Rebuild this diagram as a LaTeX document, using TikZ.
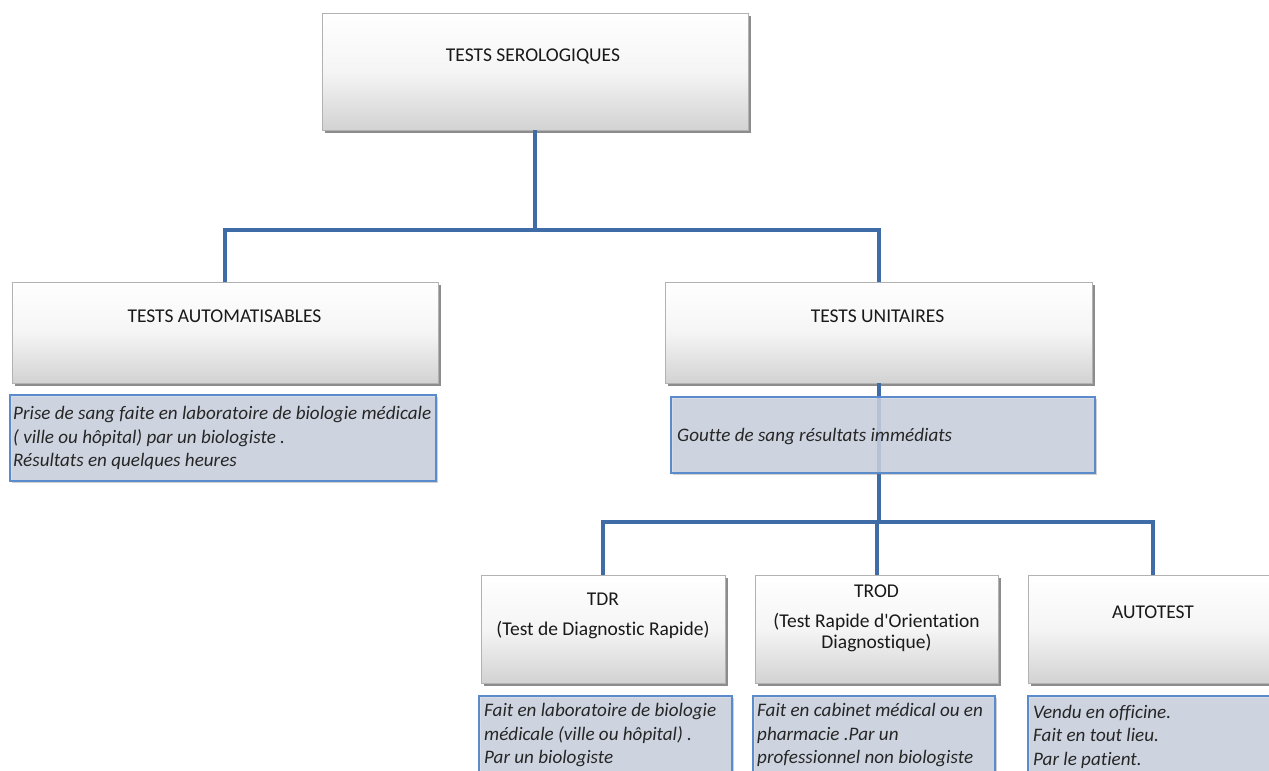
\documentclass[tikz,border=0pt]{standalone}
\usepackage{fontspec}
\setmainfont{Carlito}[Ligatures={NoCommon}]
\usetikzlibrary{shadows}
\definecolor{conncol}{HTML}{3F6CA6}
\definecolor{bfill}{HTML}{CDD5E3}
\definecolor{bdraw}{HTML}{5B8BCB}
\tikzset{
 graybox/.style={rectangle, draw=gray!60, line width=0.9pt, top color=white, bottom color=gray!35, middle color=gray!8,
   drop shadow={shadow xshift=2.5pt, shadow yshift=-3pt, opacity=0.6, fill=black!75}, inner sep=0pt},
 bluebox/.style={rectangle, draw=bdraw, line width=1.3pt, fill=bfill, fill opacity=0.82,
   drop shadow={shadow xshift=1.5pt, shadow yshift=-2pt, opacity=0.3, fill=black!60}, inner sep=0pt},
 connector/.style={draw=conncol, line width=4pt},
 lbl/.style={font=\fontsize{19.5}{23.5}\selectfont, text=black!90, align=center, inner sep=0pt, anchor=base},
 desc/.style={font=\fontsize{19.1}{23.5}\selectfont\itshape, text=black!85, align=left, inner sep=0pt, anchor=base west}
}
\begin{document}
\begin{tikzpicture}[x=1pt,y=-1pt]
\useasboundingbox (0,0) rectangle (1269,771);
\clip (0,0) rectangle (1269,771);
% junctions
\coordinate (j1) at (535,230);
\coordinate (j2) at (878.5,522);
% boxes
\node[graybox, minimum width=426pt, minimum height=117pt] (top) at (535,71.5) {};
\node[graybox, minimum width=426pt, minimum height=101pt] (auto) at (225,332.5) {};
\node[graybox, minimum width=427pt, minimum height=101pt] (unit) at (878.5,332.5) {};
\node[graybox, minimum width=244pt, minimum height=108pt] (tdr) at (603,629) {};
\node[graybox, minimum width=243pt, minimum height=108pt] (trod) at (876.5,629) {};
\node[graybox, minimum width=250pt, minimum height=108pt] (autot) at (1153,629) {};
% connectors
\draw[connector] (top.south) -- (j1);
\draw[connector] (auto.north) |- (j1) -| (unit.north);
\draw[connector] (unit.south) -- (j2);
\draw[connector] (tdr.north) |- (j2) -| (autot.north);
\draw[connector] (trod.north) -- (trod.north |- j2);
% description boxes
\node[bluebox, minimum width=426pt, minimum height=86pt] (autod) at (223,438) {};
\node[bluebox, minimum width=424pt, minimum height=76pt] (unitd) at (883,435) {};
\node[bluebox, minimum width=253pt, minimum height=84pt] (tdrd) at (605.5,738) {};
\node[bluebox, minimum width=242pt, minimum height=84pt] (trodd) at (874,738) {};
\node[bluebox, minimum width=250pt, minimum height=84pt] (autotd) at (1153,738) {};
% titles
\node[lbl] (ttop) at (533,61) {TESTS SEROLOGIQUES};
\node[lbl] (tauto) at (224.5,322) {TESTS AUTOMATISABLES};
\node[lbl] (tunit) at (877.5,322) {TESTS UNITAIRES};
\node[lbl] (ttdr) at (603,605) {TDR};
\node[lbl] (ttdr2) at (603,635) {(Test de Diagnostic Rapide)};
\node[lbl] (ttrod) at (876.5,597) {TROD};
\node[lbl] (ttrod2) at (876.5,627) {(Test Rapide d\textquotesingle Orientation};
\node[lbl] (ttrod3) at (876.5,648.5) {Diagnostique)};
\node[lbl] (tautot) at (1153,618) {AUTOTEST};
% descriptions (anchor = baseline of last line)
\node[desc] (dauto) at (13,466.5) {Prise de sang faite en laboratoire de biologie médicale\\( ville ou hôpital) par un biologiste .\\Résultats en quelques heures};
\node[desc] (dunit) at (677,441) {Goutte de sang résultats immédiats};
\node[desc] (dtdr) at (484,763.5) {Fait en laboratoire de biologie\\médicale (ville ou hôpital) .\\Par un biologiste};
\node[desc] (dtrod) at (757,763.5) {Fait en cabinet médical ou en\\pharmacie .Par un\\professionnel non biologiste};
\node[desc] (dautot) at (1033,765) {Vendu en officine.\\Fait en tout lieu.\\Par le patient.};
\end{tikzpicture}
\end{document}
